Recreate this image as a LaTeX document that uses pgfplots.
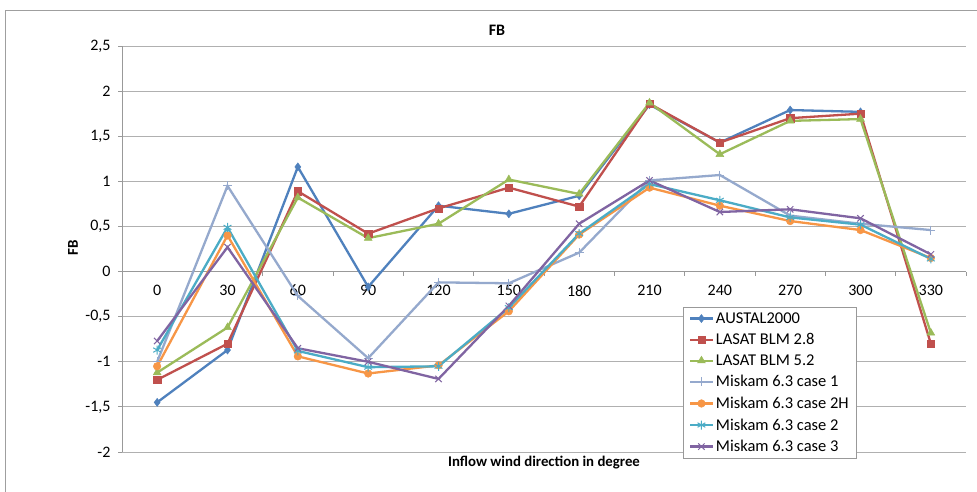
\documentclass[border=0pt]{standalone}
\usepackage{pgfplots}
\pgfplotsset{compat=1.18}
\usepackage{fontspec}
\setmainfont{Carlito}
\definecolor{cBlue}{HTML}{4F81BD}
\definecolor{cRed}{HTML}{C0504D}
\definecolor{cGreen}{HTML}{9BBB59}
\definecolor{cLight}{HTML}{95A9CD}
\definecolor{cOrange}{HTML}{F79646}
\definecolor{cTeal}{HTML}{4BACC6}
\definecolor{cPurple}{HTML}{8064A2}
\definecolor{cGrid}{HTML}{B0B0B0}
\begin{document}
\begin{tikzpicture}
\useasboundingbox (0pt,0pt) rectangle (977pt,492pt);
\fill[white] (0pt,0pt) rectangle (977pt,492pt);
\draw[gray!75, line width=0.8pt] (5pt,-20pt) rectangle (1000pt,482pt);
\begin{axis}[
  at={(122pt,40pt)}, anchor=south west,
  scale only axis, width=844pt, height=406pt,
  xmin=-0.5, xmax=11.5, ymin=-2, ymax=2.5,
  axis x line=middle, axis y line=left,
  axis line style={draw=gray!80, line width=0.8pt, -},
  xtick={0,...,11},
  xticklabels={0,30,60,90,120,150,180,210,240,270,300,330},
  minor xtick={-0.5,0.5,...,11.5},
  ytick={-2,-1.5,...,2.5},
  major x tick style={draw=none},
  minor x tick style={draw=gray!80, line width=0.8pt},
  y tick style={draw=gray!80, line width=0.8pt},
  tick align=outside,
  major tick length=4pt, minor tick length=4pt,
  ymajorgrids, grid style={draw=cGrid, line width=0.8pt},
  /pgf/number format/use comma,
  /pgf/number format/assume math mode=true,
  tick label style={font=\fontsize{16}{18}\selectfont, text=black},
  xticklabel style={yshift=-6pt},
  yticklabel style={xshift=-4pt},
  clip=false,
  legend cell align=left,
  legend style={at={(rel axis cs:0.6647,0.357)}, anchor=north west,
    draw=gray!80, fill=white, line width=0.8pt,
    font=\fontsize{16.5}{19}\selectfont,
    row sep=4.6pt, inner xsep=5.5pt, inner ysep=3pt},
  legend image code/.code={
    \draw[mark repeat=2,mark phase=2] plot coordinates {(0cm,0cm) (0.4cm,0cm) (0.8cm,0cm)};},
  every axis plot/.append style={line width=2.3pt},
]
\addplot[cBlue, mark=diamond*, mark size=4pt, mark options={solid, line width=0.5pt}] coordinates {
(0,-1.45) (1,-0.87) (2,1.16) (3,-0.17) (4,0.73) (5,0.64) (6,0.84) (7,1.85) (8,1.43) (9,1.79) (10,1.77)};
\addlegendentry{AUSTAL2000}
\addplot[cRed, mark=square*, mark size=3.6pt, mark options={solid, line width=0.5pt}] coordinates {
(0,-1.20) (1,-0.80) (2,0.89) (3,0.42) (4,0.70) (5,0.93) (6,0.72) (7,1.86) (8,1.43) (9,1.70) (10,1.75) (11,-0.80)};
\addlegendentry{LASAT BLM 2.8}
\addplot[cGreen, mark=triangle*, mark size=4.5pt, mark options={solid, line width=0.5pt}] coordinates {
(0,-1.12) (1,-0.62) (2,0.82) (3,0.37) (4,0.53) (5,1.02) (6,0.86) (7,1.87) (8,1.30) (9,1.67) (10,1.69) (11,-0.68)};
\addlegendentry{LASAT BLM 5.2}
\addplot[cLight, mark=+, mark size=4.5pt, mark options={solid, line width=1pt}] coordinates {
(0,-1.00) (1,0.95) (2,-0.27) (3,-0.96) (4,-0.12) (5,-0.13) (6,0.21) (7,1.01) (8,1.07) (9,0.62) (10,0.53) (11,0.46)};
\addlegendentry{Miskam 6.3 case 1}
\addplot[cOrange, mark=*, mark size=3.8pt, mark options={solid, line width=0.5pt}] coordinates {
(0,-1.05) (1,0.40) (2,-0.94) (3,-1.13) (4,-1.04) (5,-0.44) (6,0.41) (7,0.93) (8,0.73) (9,0.56) (10,0.46) (11,0.15)};
\addlegendentry{Miskam 6.3 case 2H}
\addplot[cTeal, mark=asterisk, mark size=4.5pt, mark options={solid, line width=1pt}] coordinates {
(0,-0.87) (1,0.49) (2,-0.88) (3,-1.06) (4,-1.05) (5,-0.40) (6,0.42) (7,0.97) (8,0.79) (9,0.60) (10,0.52) (11,0.14)};
\addlegendentry{Miskam 6.3 case 2}
\addplot[cPurple, mark=x, mark size=4.5pt, mark options={solid, line width=1pt}] coordinates {
(0,-0.77) (1,0.27) (2,-0.85) (3,-1.00) (4,-1.19) (5,-0.38) (6,0.53) (7,1.01) (8,0.66) (9,0.69) (10,0.59) (11,0.19)};
\addlegendentry{Miskam 6.3 case 3}
\end{axis}
\node[font=\bfseries\fontsize{16}{18}\selectfont] at (497pt,462pt) {FB};
\node[font=\bfseries\fontsize{15}{17}\selectfont, rotate=90] at (73pt,244pt) {FB};
\node[font=\bfseries\fontsize{14.8}{17}\selectfont] at (544pt,29pt) {Inflow wind direction in degree};
\end{tikzpicture}
\end{document}
